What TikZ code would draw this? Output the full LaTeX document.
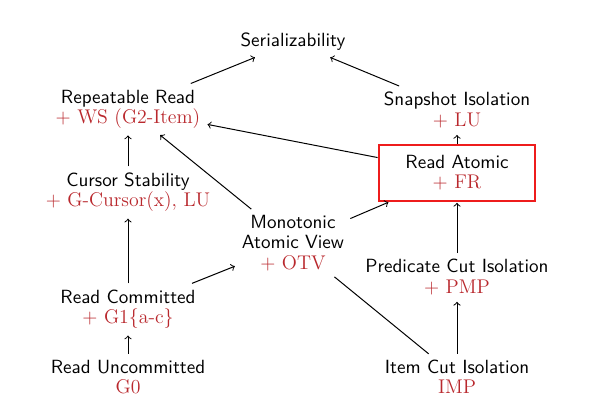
\documentclass[tikz,border=0pt]{standalone}
\usepackage{xcolor}
\definecolor{lvlred}{RGB}{185,40,45}
\definecolor{boxred}{RGB}{238,28,28}
\begin{document}
\begin{tikzpicture}[x=0.555pt,y=-0.555pt,
  lvl/.style={align=center,font=\sffamily\fontsize{10.6}{11.2}\selectfont,inner sep=3.3pt},
  arr/.style={->,black,line width=0.55pt,shorten >=0.5pt},
  plain/.style={-,black,line width=0.55pt}]
\useasboundingbox (0,0) rectangle (595,409);
\newcommand{\rd}[1]{\textcolor{lvlred}{\rmfamily\fontsize{11}{11.2}\selectfont #1}}
\node[lvl] (ser) at (293,42) {Serializability};
\node[lvl] (rr) at (128,109) {Repeatable Read\\\rd{+ WS (G2-Item)}};
\node[lvl] (si) at (457,110) {Snapshot Isolation\\\rd{+ LU}};
\node[lvl,draw=boxred,line width=1.1pt,minimum width=87pt,minimum height=31pt] (ra) at (457,173) {Read Atomic\\\rd{+ FR}};
\node[lvl] (cs) at (128,192) {Cursor Stability\\\rd{+ G-Cursor(x), LU}};
\node[lvl] (mav) at (293,243) {Monotonic\\Atomic View\\\rd{+ OTV}};
\node[lvl] (pci) at (457,277) {Predicate Cut Isolation\\\rd{+ PMP}};
\node[lvl] (rc) at (128,309) {Read Committed\\\rd{+ G1\{a-c\}}};
\node[lvl] (ru) at (128,377) {Read Uncommitted\\\rd{G0}};
\node[lvl] (ici) at (457,377) {Item Cut Isolation\\\rd{IMP}};
\draw[arr] (rr) -- (ser);
\draw[arr] (si) -- (ser);
\draw[arr] (ra) -- (rr);
\draw[arr] (mav) -- (rr);
\draw[arr] (cs) -- (rr);
\draw[arr] (rc) -- (cs);
\draw[arr] (ru) -- (rc);
\draw[arr] (rc) -- (mav);
\draw[arr] (mav) -- (ra);
\draw[arr] (pci) -- (ra);
\draw[arr] (ici) -- (pci);
\draw[arr] (ra) -- (si);
\draw[plain] (ici) -- (mav);
\end{tikzpicture}
\end{document}
